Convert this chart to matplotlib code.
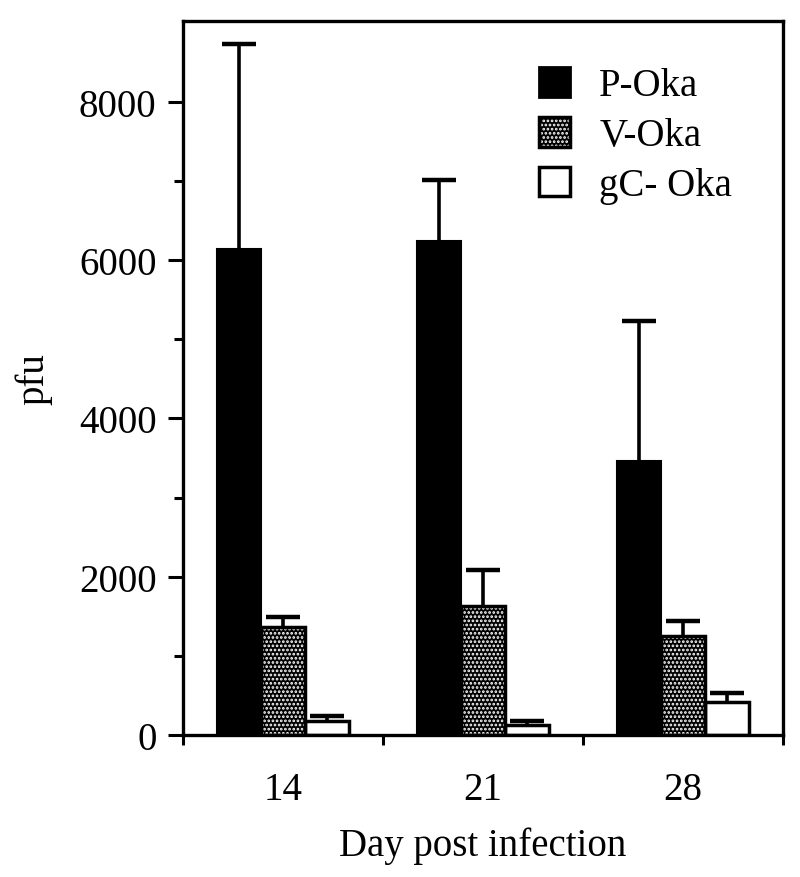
import numpy as np
import matplotlib.pyplot as plt
from matplotlib.patches import Patch

plt.rcParams['font.family'] = ['Liberation Serif', 'DejaVu Serif']
plt.rcParams['hatch.linewidth'] = 1.3

days = ['14', '21', '28']
series = ['P-Oka', 'V-Oka', 'gC- Oka']
p_oka = [6140, 6235, 3460]
p_oka_err = [2585, 780, 1770]
v_oka = [1370, 1625, 1245]
v_oka_err = [120, 460, 195]
gc_oka = [175, 130, 420]
gc_oka_err = [70, 45, 110]

fig = plt.figure(figsize=(8, 8.78), dpi=100)
ax = fig.add_axes([183/800, 1 - 736/878, 600/800, 714/878])

x = np.arange(len(days))
w = 0.22

def up_err(xs, ys, errs):
    # one-sided error bars, drop the lower cap
    eb = ax.errorbar(xs, ys, yerr=[np.zeros(len(ys)), errs], fmt='none',
                     ecolor='black', elinewidth=2.6, capsize=12, capthick=3.2, zorder=1)
    eb[1][0].set_visible(False)

ax.bar(x - w, p_oka, w, color='black', edgecolor='black', linewidth=1.5, zorder=2)
ax.bar(x, v_oka, w, color='black', edgecolor='white', hatch='....', linewidth=0, zorder=2)
ax.bar(x, v_oka, w, facecolor='none', edgecolor='black', linewidth=2.5, zorder=3)
ax.bar(x + w, gc_oka, w, color='white', edgecolor='black', linewidth=2.5, zorder=2)
up_err(x - w, p_oka, p_oka_err)
up_err(x, v_oka, v_oka_err)
up_err(x + w, gc_oka, gc_oka_err)

ax.set_xlim(-0.5, 2.5)
ax.set_ylim(0, 9020)
ax.set_xticks(x)
ax.set_xticklabels(days)
ax.set_xticks([-0.5, 0.5, 1.5, 2.5], minor=True)
ax.set_yticks([0, 2000, 4000, 6000, 8000])
ax.set_yticks([1000, 3000, 5000, 7000], minor=True)

ax.tick_params(axis='x', which='major', length=0, pad=26, labelsize=28)
ax.tick_params(axis='x', which='minor', length=7, width=2.2, direction='out')
ax.tick_params(axis='y', which='major', length=11, width=2.2, pad=8, labelsize=28)
ax.tick_params(axis='y', which='minor', length=6.5, width=2.2)
for s in ax.spines.values():
    s.set_linewidth(2.4)

ax.set_xlabel('Day post infection', fontsize=28, labelpad=13)
ax.set_ylabel('pfu', fontsize=28, labelpad=19)

handles = [
    Patch(facecolor='black', edgecolor='black', linewidth=2),
    (Patch(facecolor='black', edgecolor='white', hatch='....', linewidth=0),
     Patch(facecolor='none', edgecolor='black', linewidth=2.5)),
    Patch(facecolor='white', edgecolor='black', linewidth=2.5),
]
leg = ax.legend(handles, series, loc='upper left', bbox_to_anchor=(539/800, 1 - 68/878),
                bbox_transform=fig.transFigure, frameon=False, fontsize=28,
                handlelength=0.8, handleheight=0.8, handletextpad=0.75,
                labelspacing=0.32, borderpad=0, borderaxespad=0)

fig.savefig('out.png', dpi=100)
